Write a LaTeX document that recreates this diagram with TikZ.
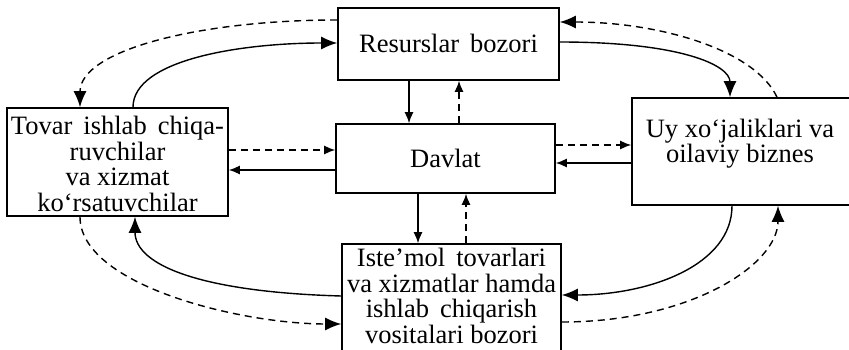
\documentclass[tikz,border=0pt]{standalone}
\usepackage{fontspec}
\setmainfont{Liberation Serif}
\usetikzlibrary{arrows.meta}
\begin{document}
\begin{tikzpicture}[x=1pt,y=-1pt,
  box/.style={draw,line width=1.6pt,inner sep=0pt},
  txt/.style={align=center,inner sep=0pt,font=\fontsize{26.5}{25.5}\selectfont},
  con/.style={line width=1.4pt},
  dsh/.style={line width=1.4pt,dash pattern=on 7pt off 5pt},
  bigtip/.style={-{Latex[length=16pt,width=13pt]}},
  smalltip/.style={-{Latex[length=11pt,width=9pt]}}]
\useasboundingbox (0,0) rectangle (849,350);
% boxes
\node[box,minimum width=221pt,minimum height=72pt] (res) at (448.5,44) {};
\node[txt] (rest) at (448.5,43) {Resurslar\, bozori};
\node[box,minimum width=221pt,minimum height=108pt] (tov) at (117.5,162) {};
\node[txt] (tovt) at (117.5,164) {Tovar\, ishlab\, chiqa-\\ruvchilar\\va xizmat\\ko‘rsatuvchilar};
\node[box,minimum width=219pt,minimum height=69pt] (dav) at (445.5,158.5) {};
\node[txt] (davt) at (445.5,158) {Davlat};
\node[box,minimum width=220pt,minimum height=107pt] (uy) at (742,151.5) {};
\node[txt] (uyt) at (740,143.5) {Uy xo‘jaliklari va\\oilaviy biznes};
\node[box,minimum width=219pt,minimum height=112pt] (ist) at (451.5,300) {};
\node[txt] (istt) at (451.5,296) {Iste’mol\, tovarlari\\va xizmatlar hamda\\ishlab\, chiqarish\\vositalari bozori};
% straight connectors
\draw[con,smalltip] (res.south -| 409,0) -- (dav.north -| 409,0);
\draw[dsh,smalltip] (dav.north -| 459,0) -- (res.south -| 459,0);
\draw[con,smalltip] (dav.south -| 418,0) -- (ist.north -| 418,0);
\draw[dsh,smalltip] (ist.north -| 466,0) -- (dav.south -| 466,0);
\draw[dsh,smalltip] (tov.east |- 0,150) -- (dav.west |- 0,150);
\draw[con,smalltip] (dav.west |- 0,170) -- (tov.east |- 0,170);
\draw[dsh,smalltip] (dav.east |- 0,145) -- (uy.west |- 0,145);
\draw[con,smalltip] (uy.west |- 0,163) -- (dav.east |- 0,163);
% curved connectors
\draw[con,bigtip] (tov.north -| 133,0) .. controls (133,60) and (240,43) .. (res.west |- 0,43);
\draw[dsh,bigtip] (res.west |- 0,20) .. controls (200,20) and (80,50) .. (tov.north -| 80,0);
\draw[con,bigtip] (res.east |- 0,42) .. controls (680,42) and (730,65) .. (uy.north -| 730,0);
\draw[dsh,bigtip] (uy.north -| 777,0) .. controls (755,50) and (660,22) .. (res.east |- 0,22);
\draw[con,bigtip] (uy.south -| 732,0) .. controls (732,265) and (650,295) .. (ist.east |- 0,295);
\draw[dsh,bigtip] (ist.east |- 0,322) .. controls (690,322) and (778,265) .. (uy.south -| 778,0);
\draw[con,bigtip] (ist.west |- 0,296) .. controls (200,292) and (135,265) .. (tov.south -| 135,0);
\draw[dsh,bigtip] (tov.south -| 80,0) .. controls (80,285) and (240,324) .. (ist.west |- 0,324);
\end{tikzpicture}
\end{document}
